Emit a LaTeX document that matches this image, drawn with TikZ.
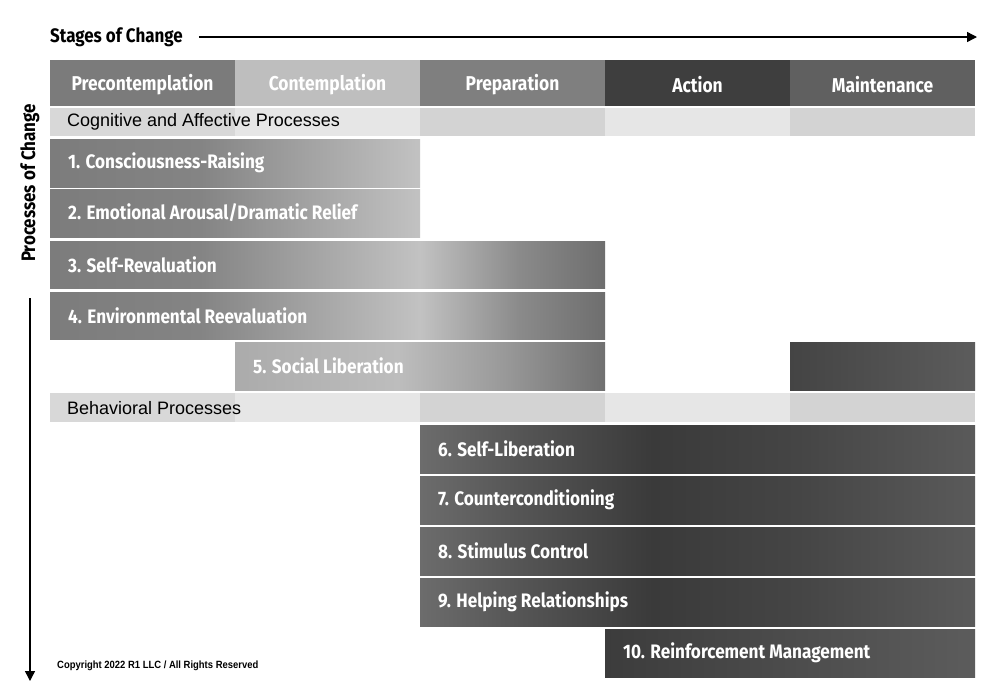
\documentclass[tikz,border=0pt]{standalone}
\usepackage{fontspec}
\usetikzlibrary{arrows.meta}
\newfontfamily\condf{Fira Sans}[FakeStretch=0.88]
\newfontfamily\headf{Fira Sans}[FakeStretch=0.87]
\newfontfamily\plainf{Liberation Sans}
\newfontfamily\copyf{Liberation Sans}[FakeStretch=0.90]
\definecolor{hPre}{HTML}{7B7B7B}
\definecolor{hCon}{HTML}{BEBEBE}
\definecolor{hPrep}{HTML}{7F7F7F}
\definecolor{hAct}{HTML}{3E3E3E}
\definecolor{hMai}{HTML}{606060}
\definecolor{lA}{HTML}{D8D8D8}
\definecolor{lB}{HTML}{E6E6E6}
\definecolor{lC}{HTML}{D3D3D3}
\definecolor{a1}{HTML}{7C7C7C}\definecolor{a2}{HTML}{848484}\definecolor{a3}{HTML}{C2C2C2}
\definecolor{b4}{HTML}{8A8A8A}\definecolor{b5}{HTML}{6E6E6E}
\definecolor{c1}{HTML}{ABABAB}\definecolor{c2}{HTML}{BDBDBD}\definecolor{c3}{HTML}{9A9A9A}\definecolor{c4}{HTML}{707070}
\definecolor{d1}{HTML}{6C6C6C}\definecolor{d2}{HTML}{555555}\definecolor{d3}{HTML}{3A3A3A}\definecolor{d4}{HTML}{454545}\definecolor{d5}{HTML}{5A5A5A}
\definecolor{e1}{HTML}{3C3C3C}\definecolor{e2}{HTML}{5C5C5C}
\definecolor{f1}{HTML}{444444}\definecolor{f2}{HTML}{5C5C5C}
\pgfdeclarehorizontalshading{shA}{100bp}{color(0bp)=(a1); color(25bp)=(a1); color(45.3bp)=(a2); color(75bp)=(a3); color(100bp)=(a3)}
\pgfdeclarehorizontalshading{shB}{100bp}{color(0bp)=(a1); color(25bp)=(a1); color(38.5bp)=(a2); color(58.3bp)=(a3); color(67.3bp)=(b4); color(75bp)=(b5); color(100bp)=(b5)}
\pgfdeclarehorizontalshading{shC}{100bp}{color(0bp)=(c1); color(25bp)=(c1); color(47bp)=(c2); color(61bp)=(c3); color(75bp)=(c4); color(100bp)=(c4)}
\pgfdeclarehorizontalshading{shD}{100bp}{color(0bp)=(d1); color(25bp)=(d1); color(34bp)=(d2); color(46bp)=(d3); color(59bp)=(d4); color(75bp)=(d5); color(100bp)=(d5)}
\pgfdeclarehorizontalshading{shE}{100bp}{color(0bp)=(e1); color(25bp)=(e1); color(75bp)=(e2); color(100bp)=(e2)}
\pgfdeclarehorizontalshading{shF}{100bp}{color(0bp)=(f1); color(25bp)=(f1); color(75bp)=(f2); color(100bp)=(f2)}
\tikzset{
  cell/.style={anchor=north west, inner sep=0pt, outer sep=0pt, draw=none},
  lab/.style={anchor=west, inner sep=0pt, text=white, font=\condf\bfseries\fontsize{19.5}{21}\selectfont},
  head/.style={inner sep=0pt, text=white, font=\headf\bfseries\fontsize{20}{22}\selectfont},
  glab/.style={anchor=west, inner sep=0pt, text=black, font=\plainf\fontsize{18}{20}\selectfont},
  ttl/.style={inner sep=0pt, text=black, font=\headf\bfseries\fontsize{19.5}{21}\selectfont},
  axis/.style={line width=1.4pt, -{Triangle[length=10pt,width=10pt]}},
}
\begin{document}
\begin{tikzpicture}[x=1pt,y=-1pt]
\useasboundingbox[fill=white] (0,0) rectangle (1000,697);
% title and top arrow
\node[ttl, anchor=west] (stages) at (50,37) {Stages of Change};
\coordinate (topEnd) at (977,37);
\draw[axis] ([xshift=16pt]stages.east) -- (topEnd);
% vertical axis
\node[ttl, rotate=90] (procs) at (30,183) {Processes of Change};
\coordinate (vStart) at (30,298);
\coordinate (vEnd) at (30,681);
\draw[axis] (vStart) -- (vEnd);
% header
\node[cell, fill=hPre, minimum width=185pt, minimum height=46pt] (hPreB) at (50,60) {};
\node[cell, fill=hCon, minimum width=185pt, minimum height=46pt] (hConB) at (235,60) {};
\node[cell, fill=hPrep, minimum width=185pt, minimum height=46pt] (hPrepB) at (420,60) {};
\node[cell, fill=hAct, minimum width=185pt, minimum height=46pt] (hActB) at (605,60) {};
\node[cell, fill=hMai, minimum width=185pt, minimum height=46pt] (hMaiB) at (790,60) {};
\node[head] (tPre) at ([yshift=-1.5pt]hPreB.center) {Precontemplation};
\node[head] (tCon) at ([yshift=-1.5pt]hConB.center) {Contemplation};
\node[head] (tPrep) at ([yshift=-1.5pt]hPrepB.center) {Preparation};
\node[head] (tAct) at ([yshift=-1.5pt]hActB.center) {Action};
\node[head] (tMai) at ([yshift=-1.5pt]hMaiB.center) {Maintenance};
% cognitive band
\node[cell, fill=lA, minimum width=185pt, minimum height=28pt] (g1) at (50,108) {};
\node[cell, fill=lB, minimum width=185pt, minimum height=28pt] (g2) at (235,108) {};
\node[cell, fill=lC, minimum width=185pt, minimum height=28pt] (g3) at (420,108) {};
\node[cell, fill=lB, minimum width=185pt, minimum height=28pt] (g4) at (605,108) {};
\node[cell, fill=lC, minimum width=185pt, minimum height=28pt] (g5) at (790,108) {};
\node[glab] (gT) at (67,122) {Cognitive and Affective Processes};
% rows 1-5
\node[cell, shading=shA, minimum width=370pt, minimum height=48pt] (r1) at (50,139) {};
\node[cell, shading=shA, minimum width=370pt, minimum height=48pt] (r2) at (50,189) {};
\node[cell, shading=shB, minimum width=555pt, minimum height=47pt] (r3) at (50,241) {};
\node[cell, shading=shB, minimum width=555pt, minimum height=47pt] (r4) at (50,292) {};
\node[cell, shading=shC, minimum width=370pt, minimum height=48pt] (r5) at (235,342) {};
\node[cell, shading=shF, minimum width=185pt, minimum height=48pt] (r5m) at (790,342) {};
\node[lab] (t1) at ([xshift=18pt]r1.west) {1. Consciousness-Raising};
\node[lab] (t2) at ([xshift=18pt]r2.west) {2. Emotional Arousal/Dramatic Relief};
\node[lab] (t3) at ([xshift=18pt]r3.west) {3. Self-Revaluation};
\node[lab] (t4) at ([xshift=18pt]r4.west) {4. Environmental Reevaluation};
\node[lab] (t5) at ([xshift=18pt]r5.west) {5. Social Liberation};
% behavioral band
\node[cell, fill=lA, minimum width=185pt, minimum height=29pt] (b1) at (50,393) {};
\node[cell, fill=lB, minimum width=185pt, minimum height=29pt] (b2) at (235,393) {};
\node[cell, fill=lC, minimum width=185pt, minimum height=29pt] (b3) at (420,393) {};
\node[cell, fill=lB, minimum width=185pt, minimum height=29pt] (b4) at (605,393) {};
\node[cell, fill=lC, minimum width=185pt, minimum height=29pt] (b5) at (790,393) {};
\node[glab] (bT) at (67,408) {Behavioral Processes};
% rows 6-10
\node[cell, shading=shD, minimum width=555pt, minimum height=48pt] (r6) at (420,425) {};
\node[cell, shading=shD, minimum width=555pt, minimum height=48pt] (r7) at (420,476) {};
\node[cell, shading=shD, minimum width=555pt, minimum height=48pt] (r8) at (420,527) {};
\node[cell, shading=shD, minimum width=555pt, minimum height=48pt] (r9) at (420,578) {};
\node[cell, shading=shE, minimum width=370pt, minimum height=48pt] (r10) at (605,629) {};
\node[lab] (t6) at ([xshift=18pt]r6.west) {6. Self-Liberation};
\node[lab] (t7) at ([xshift=18pt]r7.west) {7. Counterconditioning};
\node[lab] (t8) at ([xshift=18pt]r8.west) {8. Stimulus Control};
\node[lab] (t9) at ([xshift=18pt]r9.west) {9. Helping Relationships};
\node[lab] (t10) at ([xshift=18pt]r10.west) {10. Reinforcement Management};
% copyright
\node[anchor=west, inner sep=0pt, font=\copyf\bfseries\fontsize{10.5}{12}\selectfont] (copy) at (57,666) {Copyright 2022 R1 LLC / All Rights Reserved};
\end{tikzpicture}
\end{document}
